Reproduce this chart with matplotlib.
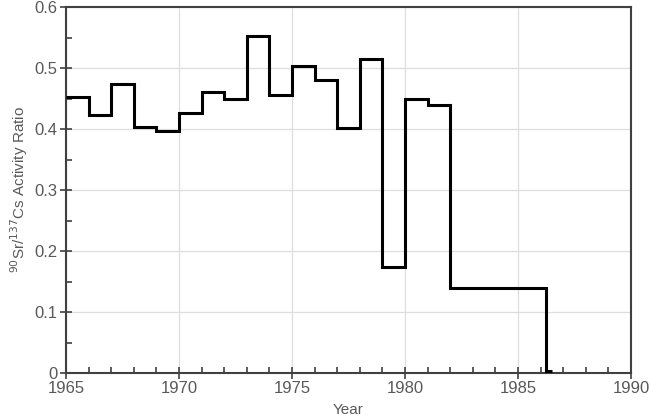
import matplotlib
matplotlib.use("Agg")
import matplotlib.pyplot as plt
from matplotlib.ticker import MultipleLocator

plt.rcParams['font.family'] = ['Liberation Sans', 'DejaVu Sans']

# year edges of each step and the ratio within it
edges = [1965, 1966, 1967, 1968, 1969, 1970, 1971, 1972, 1973, 1974, 1975,
         1976, 1977, 1978, 1979, 1980, 1981, 1982, 1986.25, 1986.5]
ratio = [0.452, 0.423, 0.474, 0.403, 0.396, 0.426, 0.461, 0.449, 0.553, 0.456,
         0.503, 0.481, 0.402, 0.514, 0.173, 0.450, 0.439, 0.140, 0.003]

gray = '#595959'
spine = '#404040'

fig = plt.figure(figsize=(6.49, 4.20), dpi=100)
ax = fig.add_axes([0.1017, 0.1119, 0.8706, 0.8714])

ax.stairs(ratio, edges, baseline=None, color='black', linewidth=2.2, zorder=3)

ax.set_xlim(1965, 1990)
ax.set_ylim(0, 0.6)
ax.xaxis.set_major_locator(MultipleLocator(5))
ax.xaxis.set_minor_locator(MultipleLocator(1))
ax.yaxis.set_major_locator(MultipleLocator(0.1))
ax.yaxis.set_minor_locator(MultipleLocator(0.05))
ax.yaxis.set_major_formatter(plt.FuncFormatter(lambda v, p: '0' if v == 0 else f'{v:.1f}'))

ax.grid(True, which='major', color='#dedede', linewidth=0.9, zorder=0)
for s in ax.spines.values():
    s.set_color(spine)
    s.set_linewidth(1.5)

ax.tick_params(which='major', direction='inout', length=8, width=1.2,
               color=spine, labelcolor=gray, labelsize=12, pad=2)
ax.tick_params(which='minor', direction='in', length=4, width=1.2, color=spine)

ax.set_xlabel('Year', color=gray, fontsize=11, labelpad=5)
ax.set_ylabel(r'$^{90}$Sr/$^{137}$Cs Activity Ratio', color=gray, fontsize=11, labelpad=3)

fig.savefig('out.png', dpi=100)
